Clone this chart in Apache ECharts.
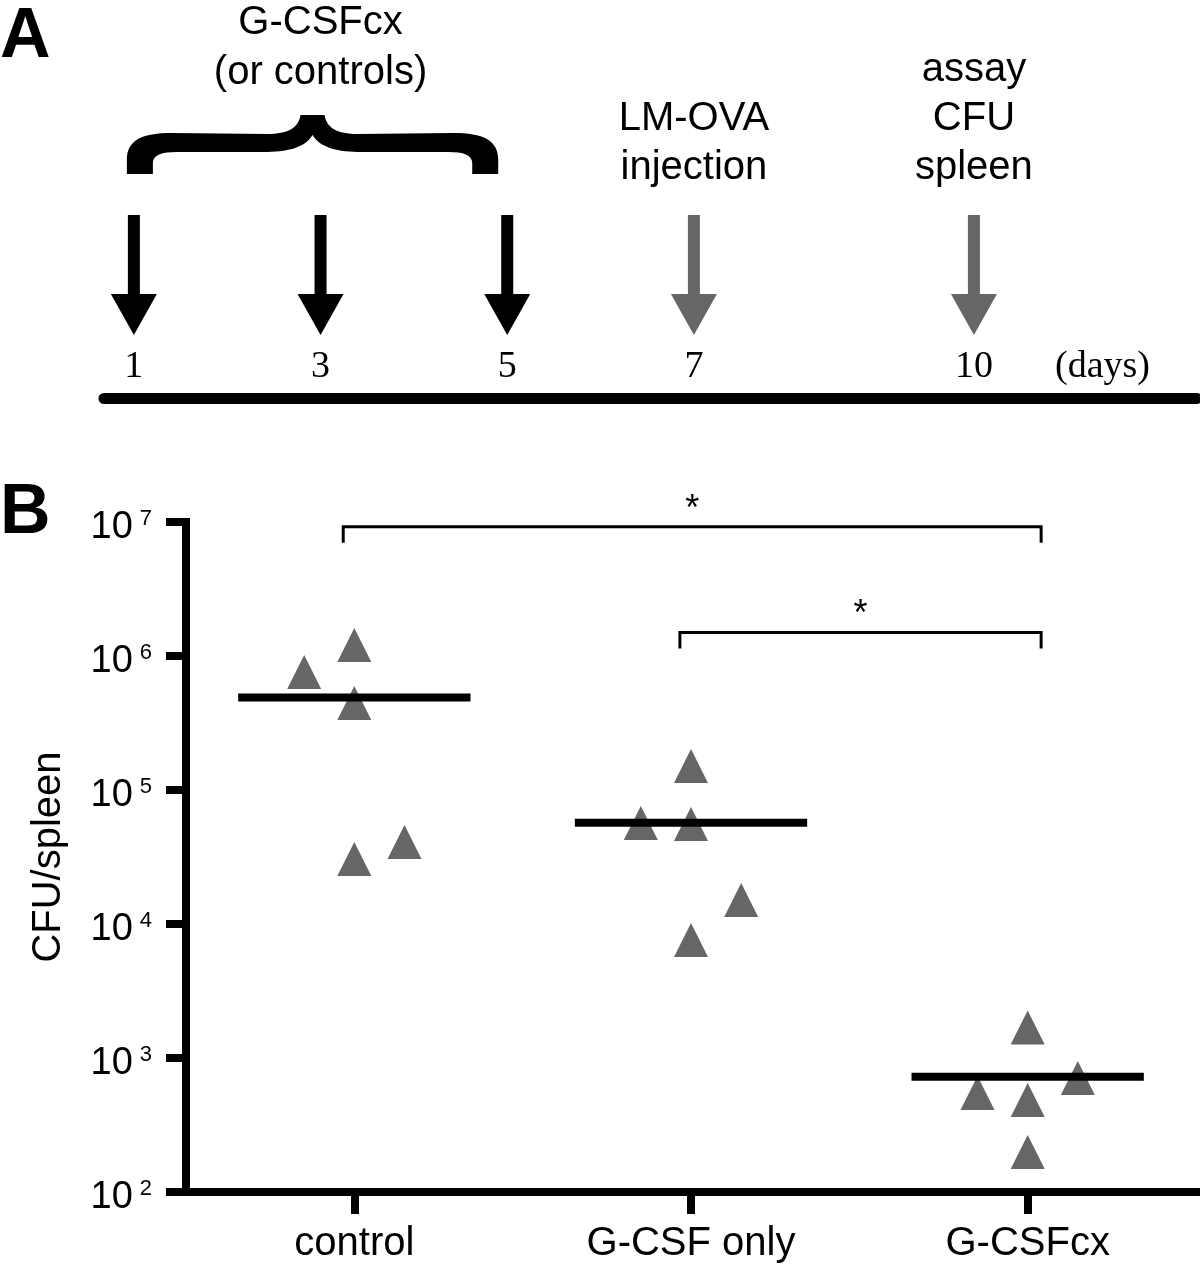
<!DOCTYPE html>
<html>
<head>
<meta charset="utf-8">
<script src="https://cdn.jsdelivr.net/npm/echarts@6/dist/echarts.min.js"></script>
<style>
  html, body { margin: 0; padding: 0; background: #fff; }
  #chart { width: 1200px; height: 1266px; }
</style>
</head>
<body>
<div id="chart"></div>
<script>
// ---------------- Panel A: timeline ----------------
const days = [1, 3, 5, 7, 10];
const dayEvents = ['treatment', 'treatment', 'treatment', 'infection', 'assay'];
const treatmentText = ['G-CSFcx', '(or controls)'];
const infectionText = ['LM-OVA', 'injection'];
const assayText = ['assay', 'CFU', 'spleen'];
const dayUnit = '(days)';

// ---------------- Panel B: CFU per spleen ----------------
const groups = ['control', 'G-CSF only', 'G-CSFcx'];
const controlCFU = [3.05e4, 4.1e4, 4.46e5, 7.6e5, 1.21e6];
const gcsfOnlyCFU = [7.6e3, 1.51e4, 5.58e4, 5.67e4, 1.51e5];
const gcsfCxCFU = [199, 486, 709, 548, 1690];
const groupMeans = [4.9e5, 5.7e4, 7.25e2];
const yTickValues = [1e2, 1e3, 1e4, 1e5, 1e6, 1e7];
const yTickExponents = ['2', '3', '4', '5', '6', '7'];
const yAxisTitle = 'CFU/spleen';
const comparisonFrom = ['control', 'G-CSF only'];
const comparisonTo = ['G-CSFcx', 'G-CSFcx'];
const comparisonMarks = ['*', '*'];
const comparisonLevels = [9.2e6, 1.5e6];

// ---------------- layout helpers ----------------
const SANS = 'Liberation Sans, Arial, Helvetica, sans-serif';
const SERIF = 'Liberation Serif, Times New Roman, serif';
const GRAY = '#666666';
const SLOT_STEP = 0.149;      // horizontal spacing of side-by-side symbols (category units)
const OVERLAP = 0.34;         // symbols closer than this (decades) are placed side by side
const MEAN_HALF = 0.345;      // half length of the mean bar (category units)

function swarmSlots(values) {
  const placed = [];
  let left = 0, right = 0;
  return values.map(v => {
    const lv = Math.log10(v);
    const free = s => placed.every(p => p.slot !== s || Math.abs(p.lv - lv) >= OVERLAP);
    let slot = 0;
    if (!free(0)) {
      const dir = right <= left ? 1 : -1;
      for (let k = 1; k < 10; k++) {
        if (free(dir * k)) { slot = dir * k; break; }
        if (free(-dir * k)) { slot = -dir * k; break; }
      }
    }
    if (slot > 0) right++; else if (slot < 0) left++;
    placed.push({ lv, slot });
    return slot;
  });
}

const groupValues = [controlCFU, gcsfOnlyCFU, gcsfCxCFU];
const pointData = [];
groupValues.forEach((vals, gi) => {
  const slots = swarmSlots(vals);
  vals.forEach((v, k) => pointData.push([gi + slots[k] * SLOT_STEP, v]));
});

const treatDays = days.filter((d, i) => dayEvents[i] === 'treatment');

const chart = echarts.init(document.getElementById('chart'), null, { renderer: 'canvas' });

const option = {
  animation: false,
  backgroundColor: '#ffffff',
  title: [
    { text: 'A', left: 0, top: 3, padding: 0,
      textStyle: { fontFamily: SANS, fontSize: 70, fontWeight: 'bold', color: '#000' } },
    { text: 'B', left: 0, top: 479, padding: 0,
      textStyle: { fontFamily: SANS, fontSize: 70, fontWeight: 'bold', color: '#000' } }
  ],
  grid: [
    { left: 104, right: 3, top: 0, height: 398 },
    { left: 186, right: 4, top: 522, bottom: 74 }
  ],
  xAxis: [
    {
      gridIndex: 0, type: 'value', min: 0.68, max: 12.39,
      axisLine: { show: true, onZero: false, lineStyle: { color: '#000', width: 11 } },
      axisTick: { show: false },
      splitLine: { show: false },
      axisLabel: {
        inside: true, customValues: days, margin: 12, color: '#000',
        fontFamily: SERIF, fontSize: 38, lineHeight: 38
      },
      name: dayUnit, nameLocation: 'end', nameGap: -142,
      nameTextStyle: {
        fontFamily: SERIF, fontSize: 38, color: '#000', lineHeight: 38,
        verticalAlign: 'bottom', align: 'left', padding: [0, 0, 12, 0]
      }
    },
    {
      gridIndex: 1, type: 'category', data: groups,
      axisLine: { show: true, onZero: false, lineStyle: { color: '#000', width: 8, cap: 'square' } },
      axisTick: { show: true, alignWithLabel: true, length: 22, lineStyle: { color: '#000', width: 8 } },
      axisLabel: { color: '#000', fontFamily: SANS, fontSize: 40, margin: 32 },
      splitLine: { show: false }
    },
    { gridIndex: 1, type: 'value', min: -0.5, max: 2.5, show: false }
  ],
  yAxis: [
    { gridIndex: 0, type: 'value', min: 0, max: 1, show: false },
    {
      gridIndex: 1, type: 'log', logBase: 10, min: 100, max: 1e7,
      axisLine: { show: true, onZero: false, lineStyle: { color: '#000', width: 8, cap: 'square' } },
      axisTick: { show: true, length: 20, lineStyle: { color: '#000', width: 8 } },
      minorTick: { show: false },
      splitLine: { show: false },
      axisLabel: {
        margin: 34,
        padding: [12, 0, 0, 0],
        formatter: v => {
          let idx = yTickValues.findIndex(t => Math.abs(Math.log10(t) - Math.log10(v)) < 1e-6);
          if (idx < 0) return '';
          return '{b|10}{s|' + yTickExponents[idx] + '}';
        },
        rich: {
          b: { fontFamily: SANS, fontSize: 38, color: '#000', lineHeight: 40 },
          s: { fontFamily: SANS, fontSize: 22, color: '#000', verticalAlign: 'top', padding: [0, 0, 0, 7], lineHeight: 40 }
        }
      },
      name: yAxisTitle, nameLocation: 'middle', nameGap: 117, nameRotate: 90,
      nameTextStyle: { fontFamily: SANS, fontSize: 40, color: '#000' }
    }
  ],
  series: [
    // Panel A arrows and event labels
    {
      type: 'custom', xAxisIndex: 0, yAxisIndex: 0, z: 5,
      data: days.map(d => [d, 0]),
      renderItem: (params, api) => {
        const i = params.dataIndex;
        const kind = dayEvents[i];
        const p = api.coord([api.value(0), 0]);
        const x = p[0], yb = p[1];
        const color = kind === 'treatment' ? '#000' : GRAY;
        const children = [{
          type: 'polygon',
          shape: { points: [
            [x - 6, yb - 183], [x + 6, yb - 183], [x + 6, yb - 104], [x + 23, yb - 104],
            [x, yb - 63], [x - 23, yb - 104], [x - 6, yb - 104]
          ] },
          style: { fill: color }
        }];
        const lines = kind === 'infection' ? infectionText : (kind === 'assay' ? assayText : null);
        if (lines) {
          children.push({
            type: 'text',
            style: {
              text: lines.join('\n'), x: x, y: yb - 206,
              align: 'center', verticalAlign: 'bottom',
              fontFamily: SANS, fontSize: 40, lineHeight: 49, fill: '#000'
            }
          });
        }
        return { type: 'group', children };
      }
    },
    // Panel A brace with treatment label
    {
      type: 'custom', xAxisIndex: 0, yAxisIndex: 0, z: 5,
      data: [[treatDays[0], treatDays[treatDays.length - 1]]],
      renderItem: (params, api) => {
        const a = api.coord([api.value(0), 0]);
        const b = api.coord([api.value(1), 0]);
        const yb = a[1];
        const x0 = a[0] - 7, x1 = b[0] - 9, xc = (x0 + x1) / 2;
        const Y = d => yb - d;
        const yTop = Y(283), yBand = Y(265), yBandB = Y(246), yArm = Y(224);
        const path = [
          'M', x0, yArm,
          'L', x0, yBand + 27,
          'C', x0, yBand + 7, x0 + 15, yBand, x0 + 45, yBand,
          'L', xc - 45, yBand + 1,
          'C', xc - 25, yBand + 1, xc - 14, yBand - 5, xc - 12, yTop,
          'L', xc + 12, yTop,
          'C', xc + 14, yBand - 5, xc + 25, yBand + 1, xc + 45, yBand + 1,
          'L', x1 - 45, yBand,
          'C', x1 - 15, yBand, x1, yBand + 7, x1, yBand + 27,
          'L', x1, yArm,
          'L', x1 - 26, yArm,
          'L', x1 - 26, yBandB + 11,
          'C', x1 - 26, yBandB + 3, x1 - 35, yBandB, x1 - 50, yBandB,
          'L', xc + 50, yBandB,
          'C', xc + 25, yBandB, xc + 8, yBandB - 4, xc, yBand + 2,
          'C', xc - 8, yBandB - 4, xc - 25, yBandB, xc - 50, yBandB,
          'L', x0 + 50, yBandB,
          'C', x0 + 35, yBandB, x0 + 26, yBandB + 3, x0 + 26, yBandB + 11,
          'L', x0 + 26, yArm, 'Z'
        ].join(' ');
        const mid = api.coord([(api.value(0) + api.value(1)) / 2, 0]);
        return {
          type: 'group',
          children: [
            { type: 'path', shape: { pathData: path }, style: { fill: '#000' } },
            {
              type: 'text',
              style: {
                text: treatmentText.join('\n'), x: mid[0], y: yb - 300,
                align: 'center', verticalAlign: 'bottom',
                fontFamily: SANS, fontSize: 40, lineHeight: 50, fill: '#000'
              }
            }
          ]
        };
      }
    },
    // Panel B points
    {
      type: 'scatter', xAxisIndex: 2, yAxisIndex: 1, z: 3,
      symbol: 'triangle', symbolSize: 34,
      itemStyle: { color: GRAY, opacity: 1 },
      data: pointData
    },
    // Panel B mean bars
    {
      type: 'custom', xAxisIndex: 2, yAxisIndex: 1, z: 4,
      data: groupMeans.map((m, i) => [i, m]),
      renderItem: (params, api) => {
        const g = api.value(0), m = api.value(1);
        const p1 = api.coord([g - MEAN_HALF, m]);
        const p2 = api.coord([g + MEAN_HALF, m]);
        return {
          type: 'line',
          shape: { x1: p1[0], y1: p1[1], x2: p2[0], y2: p2[1] },
          style: { stroke: '#000', lineWidth: 8 }
        };
      }
    },
    // Panel B significance brackets
    {
      type: 'custom', xAxisIndex: 2, yAxisIndex: 1, z: 4,
      data: comparisonFrom.map((f, i) => [groups.indexOf(f), groups.indexOf(comparisonTo[i]), comparisonLevels[i]]),
      renderItem: (params, api) => {
        const a = api.coord([api.value(0) - 0.033, api.value(2)]);
        const b = api.coord([api.value(1) + 0.04, api.value(2)]);
        return {
          type: 'group',
          children: [
            {
              type: 'polyline',
              shape: { points: [[a[0], a[1] + 16], [a[0], a[1]], [b[0], b[1]], [b[0], b[1] + 16]] },
              style: { stroke: '#000', lineWidth: 3, fill: null }
            },
            {
              type: 'text',
              style: {
                text: comparisonMarks[params.dataIndex], x: (a[0] + b[0]) / 2, y: a[1] + 1,
                align: 'center', verticalAlign: 'bottom',
                fontFamily: SANS, fontSize: 36, fill: '#000'
              }
            }
          ]
        };
      }
    }
  ]
};

chart.setOption(option);
</script>
</body>
</html>
